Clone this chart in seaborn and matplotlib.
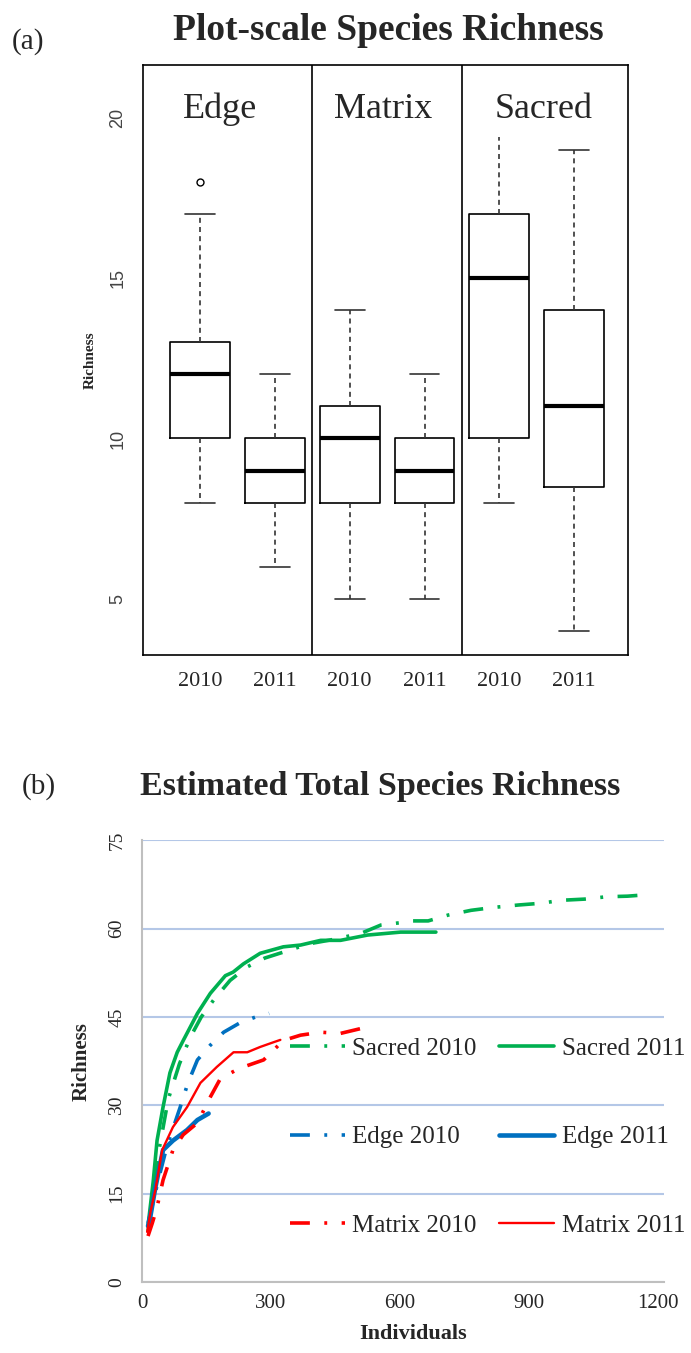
import numpy as np
import pandas as pd
import matplotlib.pyplot as plt
import seaborn as sns

# (a) box plot values: whisker low, Q1, median, Q3, whisker high (+ outliers)
box_labels = ["Edge 2010", "Edge 2011", "Matrix 2010", "Matrix 2011", "Sacred 2010", "Sacred 2011"]
year_labels = ["2010", "2011", "2010", "2011", "2010", "2011"]
edge_2010 = [8, 10, 10, 12, 12, 13, 13, 17, 18]
edge_2011 = [6, 8, 9, 10, 12]
matrix_2010 = [5, 8, 10, 11, 14]
matrix_2011 = [5, 8, 9, 10, 12]
sacred_2010 = [8, 10, 15, 17, 19.4]
sacred_2011 = [4, 8.5, 11, 14, 19]
group_names = ["Edge", "Matrix", "Sacred"]

# (b) rarefaction curves: individuals vs richness
sacred10_x = [14, 26, 41, 61, 87, 112, 138, 168, 205, 245, 286, 329, 388, 449, 510, 556, 602, 626, 666,
              713, 766, 820, 876, 929, 976, 1030, 1081, 1130, 1185]
sacred10_y = [8.5, 15, 23, 31, 37, 41.5, 45, 48, 51.2, 53.5, 55, 56, 57.4, 58.2, 59.2, 60.6, 61, 61.3, 61.3,
              62.3, 63.1, 63.6, 64, 64.3, 64.8, 65, 65.4, 65.5, 65.8]
sacred11_x = [14, 26, 35, 49, 65, 82, 96, 129, 159, 194, 212, 236, 275, 329, 369, 416, 462, 525, 602, 684]
sacred11_y = [9.5, 17, 24, 29.7, 35.5, 39, 41, 45.6, 49, 52, 52.6, 54, 55.8, 56.9, 57.2, 58, 58, 58.9, 59.4, 59.4]
edge10_x = [14, 42, 58, 89, 107, 129, 159, 190, 228, 265, 296]
edge10_y = [10, 18.5, 23, 29.7, 33.8, 37.7, 40.2, 42.4, 44, 45, 45.6]
edge11_x = [14, 18, 31, 49, 72, 105, 129, 155]
edge11_y = [9.5, 10.5, 16, 22.4, 24, 25.8, 27.5, 28.6]
matrix10_x = [14, 24, 35, 49, 72, 96, 129, 159, 183, 228, 283, 329, 369, 416, 462, 525]
matrix10_y = [7.8, 10, 12.7, 17.3, 22.4, 25, 27, 31.4, 34.6, 36.3, 37.7, 41, 41.9, 42.4, 42.2, 43.3]
matrix11_x = [12, 20, 31, 47, 72, 105, 136, 174, 213, 245, 275, 306, 322]
matrix11_y = [8.5, 12, 15.6, 22.4, 26.3, 29.7, 33.8, 36.5, 39, 39, 39.9, 40.7, 41.1]


def main():
    sns.set_style("white")
    plt.rcParams['font.family'] = ['Liberation Serif', 'DejaVu Serif']

    fig = plt.figure(figsize=(6.91, 13.53), dpi=100)

    # ---------- (a) ----------
    ax1 = fig.add_axes([0.207, 0.516, 0.702, 0.436])
    values = [edge_2010, edge_2011, matrix_2010, matrix_2011, sacred_2010, sacred_2011]
    df = pd.DataFrame({
        "box": np.repeat(box_labels, [len(v) for v in values]),
        "Richness": np.concatenate(values),
    })
    sns.boxplot(data=df, x="box", y="Richness", order=box_labels, ax=ax1,
                fill=False, color="black", linewidth=1.2, width=0.8,
                medianprops=dict(linewidth=3, color="black"),
                whiskerprops=dict(linestyle=(0, (3, 2.5)), color="#333333"),
                capprops=dict(color="#333333"),
                flierprops=dict(marker="o", markerfacecolor="none", markeredgecolor="black",
                                markersize=5, markeredgewidth=1))
    # upper whisker of Sacred 2010 has no cap in the original
    for ln in ax1.lines:
        yd = np.asarray(ln.get_ydata(), dtype=float)
        xd = np.asarray(ln.get_xdata(), dtype=float)
        if len(yd) == 2 and yd[0] == yd[1] == 19.4 and xd[0] != xd[1]:
            ln.set_visible(False)

    ax1.set_xlim(-0.76, 5.72)
    ax1.set_ylim(3.25, 21.65)
    ax1.axvline(1.5, color="black", lw=1.2)
    ax1.axvline(3.5, color="black", lw=1.2)
    for xpos, name in zip([0.27, 2.45, 4.59], group_names):
        ax1.text(xpos, 20.0, name, ha="center", va="baseline", fontsize=26)

    ax1.set_xticks(range(6))
    ax1.set_xticklabels(year_labels, fontsize=16)
    ax1.set_yticks([5, 10, 15, 20])
    ax1.set_yticklabels(["5", "10", "15", "20"], rotation=90, va="center",
                        family="Liberation Sans", fontsize=13, color="#444444")
    ax1.tick_params(axis="both", direction="out", length=5, width=1, color="#444444")
    ax1.tick_params(axis="x", pad=7)
    ax1.tick_params(axis="y", pad=7)
    ax1.set_xlabel("")
    ax1.set_ylabel("Richness", fontsize=11, fontweight="bold", labelpad=9)
    for sp in ax1.spines.values():
        sp.set_color("black")
        sp.set_linewidth(1.2)

    fig.text(12 / 691, 1 - 42 / 1353, "(a)", fontsize=21, va="center", ha="left")
    fig.text(388 / 691, 1 - 31 / 1353, "Plot-scale Species Richness", fontsize=27,
             fontweight="bold", va="center", ha="center")

    # ---------- (b) ----------
    ax2 = fig.add_axes([0.2055, 0.0525, 0.7555, 0.3265])
    dashdot = (0, (5.5, 4, 0.8, 4))
    series = [
        ("Sacred 2010", sacred10_x, sacred10_y, "#00b050", 2.6, dashdot),
        ("Sacred 2011", sacred11_x, sacred11_y, "#00b050", 2.6, "-"),
        ("Edge 2010", edge10_x, edge10_y, "#0070c0", 2.6, dashdot),
        ("Edge 2011", edge11_x, edge11_y, "#0070c0", 3.3, "-"),
        ("Matrix 2010", matrix10_x, matrix10_y, "#ff0000", 2.6, dashdot),
        ("Matrix 2011", matrix11_x, matrix11_y, "#ff0000", 1.7, "-"),
    ]
    for name, xs, ys, col, lw, ls in series:
        sns.lineplot(x=xs, y=ys, ax=ax2, color=col, linewidth=lw, linestyle=ls,
                     label=name, sort=False, estimator=None)

    ax2.set_xlim(0, 1215)
    ax2.set_ylim(0, 75)
    ax2.set_xticks([0, 300, 600, 900, 1200])
    ax2.set_yticks([0, 15, 30, 45, 60, 75])
    ax2.set_yticklabels(["0", "15", "30", "45", "60", "75"], rotation=90, va="center", fontsize=14)
    ax2.tick_params(axis="x", labelsize=15, length=0, pad=9)
    ax2.tick_params(axis="y", length=0, pad=12)
    ax2.yaxis.grid(True, color="#b4c7e7", linewidth=1.5)
    ax2.xaxis.grid(False)
    ax2.spines["top"].set_visible(False)
    ax2.spines["right"].set_visible(False)
    ax2.spines["left"].set_color("#bfbfbf")
    ax2.spines["bottom"].set_color("#bfbfbf")
    ax2.spines["left"].set_linewidth(1.5)
    ax2.spines["bottom"].set_linewidth(1.5)
    ax2.set_xlabel("Individuals", fontsize=16, fontweight="bold", labelpad=10)
    ax2.xaxis.set_label_coords(0.52, -0.095)
    ax2.set_ylabel("Richness", fontsize=15, fontweight="bold", labelpad=12)

    handles, labels = ax2.get_legend_handles_labels()
    order = [0, 2, 4, 1, 3, 5]
    ax2.legend([handles[i] for i in order], [labels[i] for i in order], ncol=2,
               loc="center left", bbox_to_anchor=(0.283, 0.328), frameon=False,
               fontsize=18, labelspacing=2.65, handlelength=2.2, handletextpad=0.3,
               columnspacing=0.9, borderpad=0, borderaxespad=0)

    fig.text(22 / 691, 1 - 787 / 1353, "(b)", fontsize=21, va="center", ha="left")
    fig.text(380 / 691, 1 - 787 / 1353, "Estimated Total Species Richness", fontsize=24.5,
             fontweight="bold", va="center", ha="center")

    plt.savefig("out.png", dpi=100)


if __name__ == "__main__":
    main()
